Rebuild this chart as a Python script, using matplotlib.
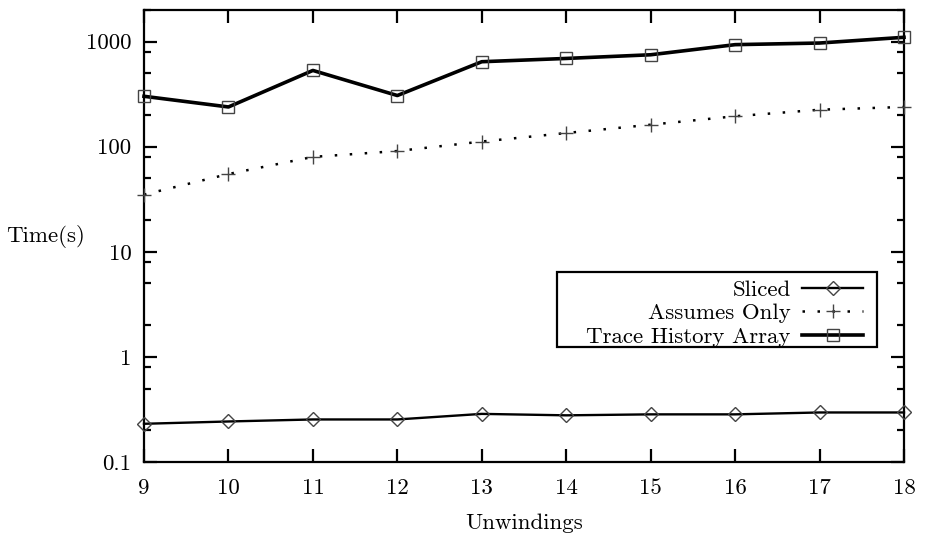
import matplotlib
matplotlib.use("Agg")
import matplotlib.pyplot as plt
from matplotlib.patches import Rectangle
from matplotlib.ticker import FixedLocator, LogLocator, FuncFormatter, NullFormatter

unwindings = [9, 10, 11, 12, 13, 14, 15, 16, 17, 18]
sliced = [0.231, 0.243, 0.254, 0.254, 0.287, 0.278, 0.284, 0.284, 0.296, 0.296]
assumes_only = [35, 55, 80, 91, 112, 135, 162, 195, 225, 239]
trace_history = [302, 239, 532, 307, 644, 692, 750, 936, 970, 1100]
y_ticks = [0.1, 1, 10, 100, 1000]
y_tick_labels = ["0.1", "1", "10", "100", "1000"]
x_ticks = unwindings

plt.rcParams['font.family'] = ['cmr10', 'DejaVu Serif']
plt.rcParams['axes.formatter.use_mathtext'] = True
FS = 16.5

W, H = 925, 535
fig = plt.figure(figsize=(W/100, H/100), dpi=100)
ax = fig.add_axes([144/W, 1-462/H, 760/W, 452/H])

mk_col = '#444444'
ax.plot(unwindings, sliced, color='black', lw=1.7, marker='D', ms=7.6,
        mfc='none', mec=mk_col, mew=1.0, clip_on=False, label='Sliced', zorder=3)
ax.plot(unwindings, assumes_only, color='black', lw=1.8, linestyle=(0, (1, 5)),
        marker='+', ms=10.5, mec=mk_col, mew=1.0, clip_on=False, label='Assumes Only', zorder=3)
ax.plot(unwindings, trace_history, color='black', lw=2.6, marker='s', ms=8.5,
        mfc='none', mec=mk_col, mew=1.0, clip_on=False, label='Trace History Array', zorder=3)

ax.set_yscale('log')
ax.set_ylim(0.1, 2000)
ax.set_xlim(9, 18)
ax.yaxis.set_major_locator(FixedLocator(y_ticks))
ax.yaxis.set_major_formatter(FuncFormatter(lambda v, p: y_tick_labels[y_ticks.index(v)] if v in y_ticks else ''))
ax.yaxis.set_minor_locator(LogLocator(base=10, subs=[2, 5, 8]))
ax.yaxis.set_minor_formatter(NullFormatter())
ax.xaxis.set_major_locator(FixedLocator(x_ticks))
ax.set_xticklabels([str(v) for v in x_ticks])

for s in ax.spines.values():
    s.set_linewidth(1.6)
ax.tick_params(which='major', direction='in', length=9.5, width=1.6, labelsize=FS,
               top=True, right=True, pad=9)
ax.tick_params(which='minor', direction='in', length=5, width=1.6, top=True, right=True)
ax.tick_params(axis='x', which='major', pad=12)

ax.set_xlabel('Unwindings', fontsize=FS, labelpad=11)
ax.set_ylabel('Time(s)', fontsize=FS, rotation=0, ha='center', va='center')
ax.yaxis.set_label_coords((46-144)/760, (462-236)/452)

# legend box (frame drawn separately, gnuplot style)
box = Rectangle((557/W, 1-347/H), (877-557)/W, (347-272)/H,
                transform=fig.transFigure, fill=True, facecolor='white',
                edgecolor='black', lw=1.6, zorder=4, clip_on=False)
ax.add_patch(box)
leg = ax.legend(loc='lower right', bbox_to_anchor=((863-144)/760, (462-347)/452),
                borderaxespad=0, markerfirst=False, fontsize=FS, frameon=False,
                labelspacing=0.16, borderpad=0,
                handlelength=2.65, handletextpad=0.5, numpoints=1)
leg.set_zorder(5)

fig.savefig('out.png', dpi=100)
